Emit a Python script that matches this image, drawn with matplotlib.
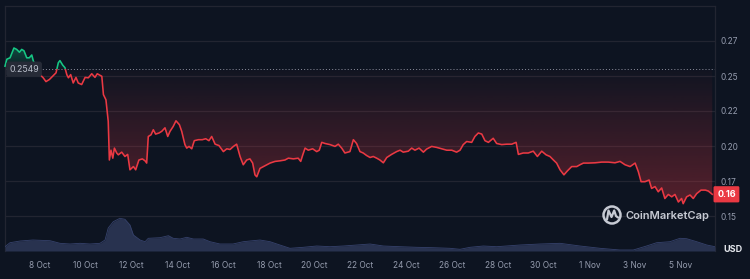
import numpy as np
import matplotlib
matplotlib.use("Agg")
import matplotlib.pyplot as plt
import matplotlib.transforms as mtransforms
from matplotlib.colors import to_rgb
from matplotlib.patches import Rectangle, Circle
from matplotlib.path import Path
from matplotlib.patches import PathPatch

plt.rcParams["font.family"] = ["Inter", "DejaVu Sans"]

# price in USD, time as days from 8 Oct 2024 00:00
price_days = [
    -1.53, -1.45, -1.31, -1.14, -1.02, -0.90, -0.80, -0.70, -0.58, -0.47,
    -0.36, -0.29, -0.14, 0.00, 0.14, 0.26, 0.41, 0.55, 0.70, 0.80,
    0.87, 0.99, 1.09, 1.17, 1.24, 1.34, 1.45, 1.57, 1.67, 1.82,
    1.97, 2.11, 2.26, 2.40, 2.50, 2.62, 2.70, 2.77, 2.88, 2.98,
    3.03, 3.10, 3.18, 3.25, 3.35, 3.42, 3.57, 3.71, 3.83, 3.93,
    4.08, 4.18, 4.32, 4.47, 4.59, 4.66, 4.73, 4.85, 4.95, 5.05,
    5.20, 5.32, 5.46, 5.58, 5.68, 5.82, 5.94, 6.09, 6.19, 6.33,
    6.41, 6.51, 6.63, 6.74, 6.92, 7.09, 7.24, 7.38, 7.50, 7.65,
    7.82, 8.01, 8.16, 8.30, 8.45, 8.59, 8.74, 8.88, 9.03, 9.17,
    9.29, 9.39, 9.47, 9.61, 9.76, 9.90, 10.05, 10.27, 10.48, 10.70,
    10.85, 11.07, 11.28, 11.39, 11.48, 11.58, 11.72, 11.91, 12.09, 12.20,
    12.31, 12.45, 12.67, 12.89, 13.03, 13.18, 13.32, 13.54, 13.69, 13.83,
    13.98, 14.12, 14.27, 14.42, 14.56, 14.71, 14.85, 15.00, 15.15, 15.36,
    15.58, 15.73, 15.87, 16.09, 16.24, 16.38, 16.56, 16.75, 16.89, 17.11,
    17.33, 17.55, 17.77, 17.99, 18.20, 18.35, 18.49, 18.64, 18.86, 19.00,
    19.15, 19.30, 19.44, 19.59, 19.80, 19.95, 20.17, 20.39, 20.61, 20.80,
    20.90, 21.11, 21.33, 21.55, 21.73, 21.92, 22.11, 22.28, 22.43, 22.57,
    22.72, 22.89, 23.04, 23.23, 23.45, 23.59, 23.74, 23.95, 24.25, 24.54,
    24.83, 25.12, 25.34, 25.56, 25.78, 26.00, 26.14, 26.26, 26.43, 26.61,
    26.72, 26.87, 27.01, 27.16, 27.30, 27.45, 27.60, 27.74, 27.89, 28.03,
    28.10, 28.25, 28.40, 28.54, 28.69, 28.88, 29.07, 29.20, 29.37,
]
price_usd = [
    0.257, 0.262, 0.263, 0.270, 0.269, 0.267, 0.269, 0.268, 0.263, 0.263,
    0.265, 0.2606, 0.256, 0.251, 0.2487, 0.246, 0.2475, 0.2498, 0.2523, 0.2595,
    0.261, 0.2578, 0.2559, 0.251, 0.2487, 0.251, 0.245, 0.249, 0.245, 0.2439,
    0.249, 0.2487, 0.2516, 0.249, 0.2516, 0.2505, 0.2498, 0.2367, 0.233, 0.2176,
    0.190, 0.197, 0.1913, 0.1985, 0.195, 0.1937, 0.1956, 0.1925, 0.194, 0.183,
    0.1853, 0.183, 0.190, 0.1908, 0.1894, 0.1878, 0.2068, 0.208, 0.2116, 0.2085,
    0.2093, 0.2105, 0.213, 0.2068, 0.2105, 0.214, 0.218, 0.2152, 0.2105, 0.201,
    0.1985, 0.1997, 0.198, 0.2038, 0.2045, 0.2045, 0.2052, 0.2038, 0.2068, 0.2013,
    0.2003, 0.196, 0.198, 0.1975, 0.1997, 0.2013, 0.1925, 0.1866, 0.190, 0.1908,
    0.1878, 0.1794, 0.178, 0.184, 0.1853, 0.1866, 0.1878, 0.189, 0.1894, 0.190,
    0.1913, 0.1908, 0.1913, 0.189, 0.1937, 0.1985, 0.197, 0.198, 0.196, 0.197,
    0.2026, 0.2018, 0.201, 0.1997, 0.2013, 0.1985, 0.195, 0.196, 0.2045, 0.2018,
    0.196, 0.195, 0.1932, 0.1918, 0.1925, 0.1913, 0.190, 0.188, 0.1918, 0.194,
    0.196, 0.197, 0.1956, 0.1963, 0.1985, 0.197, 0.1985, 0.1956, 0.1978, 0.1997,
    0.199, 0.198, 0.197, 0.197, 0.1956, 0.197, 0.201, 0.2032, 0.2026, 0.2068,
    0.2093, 0.2085, 0.2038, 0.2026, 0.2055, 0.2018, 0.201, 0.2013, 0.2013, 0.2026,
    0.194, 0.195, 0.195, 0.1963, 0.1925, 0.1963, 0.1937, 0.1925, 0.190, 0.1878,
    0.183, 0.1794, 0.1822, 0.1853, 0.1853, 0.1866, 0.1878, 0.1878, 0.188, 0.1885,
    0.1885, 0.188, 0.189, 0.1866, 0.1853, 0.1878, 0.1817, 0.1745, 0.1745, 0.1757,
    0.1697, 0.171, 0.1673, 0.170, 0.1625, 0.1654, 0.1637, 0.1654, 0.160, 0.1625,
    0.1588, 0.1637, 0.165, 0.1625, 0.166, 0.1685, 0.1685, 0.1678, 0.1655,
]

# trading volume (relative units)
vol_days = [
    -1.53, -1.31, -0.87, -0.31, 0.44, 0.87, 1.31, 1.75, 2.18, 2.62,
    2.84, 2.98, 3.20, 3.49, 3.71, 3.93, 4.08, 4.37, 4.59, 4.73,
    5.24, 5.61, 5.82, 6.12, 6.41, 6.70, 7.13, 7.43, 7.86, 8.43,
    8.88, 9.17, 9.61, 10.05, 10.48, 10.92, 11.50, 12.09, 12.67, 13.25,
    13.84, 14.42, 15.00, 15.73, 16.46, 17.18, 17.91, 18.35, 18.79, 19.37,
    19.95, 20.97, 21.84, 22.72, 23.59, 24.47, 25.34, 25.92, 26.50, 26.94,
    27.52, 27.96, 28.25, 28.69, 29.13, 29.49,
]
volume = [
    4.3, 8.3, 10, 11, 10.3, 7.7, 7, 7.7, 7, 7.7,
    11, 23, 29.3, 32.7, 31.7, 26, 16, 11, 9.3, 12.7,
    13.3, 15.3, 12.7, 12, 13.7, 12, 12, 9.3, 7, 7,
    9.3, 10, 11, 9.3, 6, 2.7, 3.7, 5, 4.3, 5,
    6, 7, 5, 4.3, 3.7, 3.3, 2.7, 1.7, 3.7, 5,
    4.3, 6, 7, 7.7, 5, 2.7, 1, 1, 5, 8.3,
    9.3, 12.7, 12.3, 9.3, 6, 4.3,
]

open_price = 0.2549
open_label = "0.2549"
last_label = "0.16"
ytick_vals = [0.15, 0.175, 0.2, 0.225, 0.25, 0.275]
ytick_labels = ["0.15", "0.17", "0.20", "0.22", "0.25", "0.27"]
# 30 Oct -> 1 Nov is 2 days (Oct has 31), so 1 Nov = day 24
xtick_days = [0, 2, 4, 6, 8, 10, 12, 14, 16, 18, 20, 22, 24, 26, 28]
xtick_labels = ["8 Oct", "10 Oct", "12 Oct", "14 Oct", "16 Oct", "18 Oct", "20 Oct",
                "22 Oct", "24 Oct", "26 Oct", "28 Oct", "30 Oct", "1 Nov", "3 Nov", "5 Nov"]

BG = "#0d1421"
GRID = "#222531"
RED = "#ea3943"
GREEN = "#16c784"
TXT = "#959cae"

x = np.array(price_days)
p = np.array(price_usd)

fig = plt.figure(figsize=(7.5, 2.79), dpi=100, facecolor=BG)
ax = fig.add_axes([5 / 750, 28 / 279, 710 / 750, 245 / 279])
ax.set_facecolor(BG)

xmin, xmax = -1.53, 29.49
ymin, ymax = 0.125, 0.30

# volume on a twin axis, at the bottom
ax2 = ax.twinx()
ax2.fill_between(vol_days, volume, 0, color="#28324f", lw=0, zorder=1)
ax2.plot(vol_days, volume, color="#36426c", lw=0.6, zorder=2)
ax2.set_ylim(0, 245)
ax2.set_yticks([])
for s in ax2.spines.values():
    s.set_visible(False)

# gradient fills between price line and open price
poly = ax.fill_between(x, p, open_price, facecolor="none", edgecolor="none")
clip = poly.get_paths()[0]

def grad(color, lo, hi, a_top, a_bot):
    img = np.zeros((256, 1, 4))
    img[:, :, :3] = to_rgb(color)
    img[:, 0, 3] = np.linspace(a_top, a_bot, 256)
    im = ax.imshow(img, extent=[xmin, xmax, lo, hi], aspect="auto", origin="upper",
                   interpolation="bilinear", zorder=1)
    im.set_clip_path(clip, ax.transData)

grad(RED, 0.155, open_price, 0.02, 0.34)
grad(GREEN, open_price, 0.272, 0.35, 0.04)

# price line, green above the open price and red below
for color, y0, h in [(RED, 0.0, open_price), (GREEN, open_price, 1.0)]:
    ln, = ax.plot(x, p, color=color, lw=1.15, zorder=3, solid_joinstyle="round")
    ln.set_clip_path(Rectangle((xmin - 5, y0), 50, h, transform=ax.transData))

ax.axhline(open_price, color="#8b91a0", lw=0.7, ls=(0, (1, 2.2)), zorder=2)

ax.set_xlim(xmin, xmax)
ax.set_ylim(ymin, ymax)

ax.yaxis.tick_right()
ax.set_yticks(ytick_vals)
ax.set_yticklabels(ytick_labels)
ax.set_xticks(xtick_days)
ax.set_xticklabels(xtick_labels)
ax.tick_params(axis="both", length=0, colors=TXT, labelsize=6)
ax.tick_params(axis="y", pad=4)
ax.tick_params(axis="x", pad=7)
ax.grid(axis="y", color=GRID, lw=0.9)
ax.set_axisbelow(True)
for name, s in ax.spines.items():
    s.set_color(GRID)
    s.set_linewidth(0.9)
ax.spines["bottom"].set_visible(False)

# open price tag on the left
blend = mtransforms.blended_transform_factory(ax.transAxes, ax.transData)
ax.text(0.006, open_price, open_label, transform=blend, ha="left", va="center",
        fontsize=6.3, color="#b9bfcb", zorder=6,
        bbox=dict(boxstyle="round,pad=0.35,rounding_size=0.3", fc="#262b37", ec="none"))

# last price badge on the right
ax.text(1.003, p[-1], last_label, transform=blend, ha="left", va="center",
        fontsize=6.5, color="white", fontweight="bold", zorder=6, clip_on=False,
        bbox=dict(boxstyle="round,pad=0.4,rounding_size=0.15", fc=RED, ec="none"))

fig.text(733 / 750, 1 - 250 / 279, "USD", ha="center", va="center",
         color="#e3e6ec", fontsize=6.5, fontweight="bold")

# watermark
fig.text(625 / 750, 1 - 216 / 279, "CoinMarketCap", ha="left", va="center",
         color="#c6cad3", fontsize=8, fontweight="semibold")
lax = fig.add_axes([602 / 750, 1 - 225 / 279, 20 / 750, 20 / 279])
lax.set_xlim(-1, 1)
lax.set_ylim(-1, 1)
lax.set_aspect("equal")
lax.axis("off")
lax.add_patch(Circle((0, 0), 0.85, fill=False, ec="#c6cad3", lw=1.8))
verts = [(-0.5, -0.45), (-0.35, 0.45), (-0.05, -0.2), (0.22, 0.45), (0.4, -0.1), (0.6, -0.25)]
lax.add_patch(PathPatch(Path(verts), fill=False, ec="#c6cad3", lw=1.6, capstyle="round", joinstyle="round"))

fig.savefig("out.png", dpi=100, facecolor=BG)
